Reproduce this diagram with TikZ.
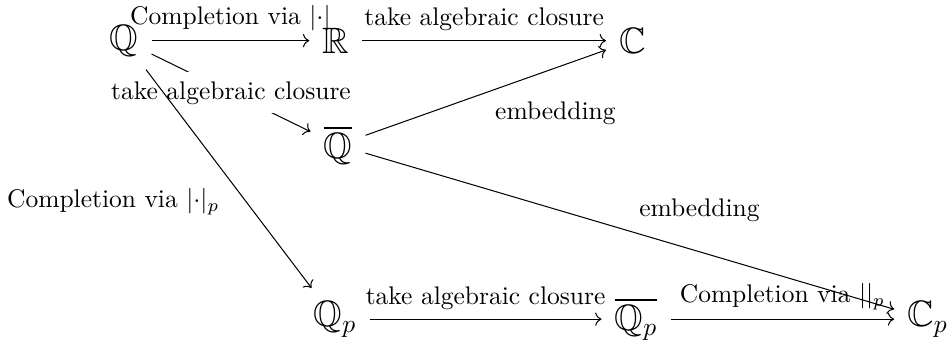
\documentclass[tikz,border=0pt]{standalone}
\usepackage{amsmath, amssymb}
\usepackage{tikz}
\usetikzlibrary{arrows.meta}
\tikzset{
  obj/.style={inner sep=5pt, font=\Large},
  map/.style={-{Computer Modern Rightarrow}, thin},
  lbl/.style={font=\normalsize, inner sep=3.5pt},
}

\begin{document}
\begin{tikzpicture}
  \useasboundingbox (0,0) rectangle (13.07,4.74);
  % Körper, drei Zeilen
  \node[obj] (q) at (1.71,4.18) {$\mathbb{Q}$};
  \node[obj] (r) at (4.63,4.18) {$\mathbb{R}$};
  \node[obj] (c) at (8.72,4.18) {$\mathbb{C}$};
  \node[obj] (qbar) at (4.66,2.74) {$\overline{\mathbb{Q}}$};
  \node[obj] (qp) at (4.62,0.34) {$\mathbb{Q}_p$};
  \node[obj] (qpbar) at (8.77,0.34) {$\overline{\mathbb{Q}_p}$};
  \node[obj] (cp) at (12.79,0.34) {$\mathbb{C}_p$};
  % Pfeile
  \draw[map] (q) -- node[lbl, above] {Completion via $\lvert\cdot\rvert$} (r);
  \draw[map] (r) -- node[lbl, above] {take algebraic closure} (c);
  \draw[map] (q) -- node[lbl, fill=white] {take algebraic closure} (qbar);
  \draw[map] (q) -- node[lbl, below left] {Completion via $\lvert\cdot\rvert_p$} (qp);
  \draw[map] (qbar) -- node[lbl, below right] {embedding} (c);
  \draw[map] (qbar) -- node[lbl, above right] {embedding} (cp);
  \draw[map] (qp) -- node[lbl, above] {take algebraic closure} (qpbar);
  \draw[map] (qpbar) -- node[lbl, above] {Completion via $||_p$} (cp);
\end{tikzpicture}
\end{document}
